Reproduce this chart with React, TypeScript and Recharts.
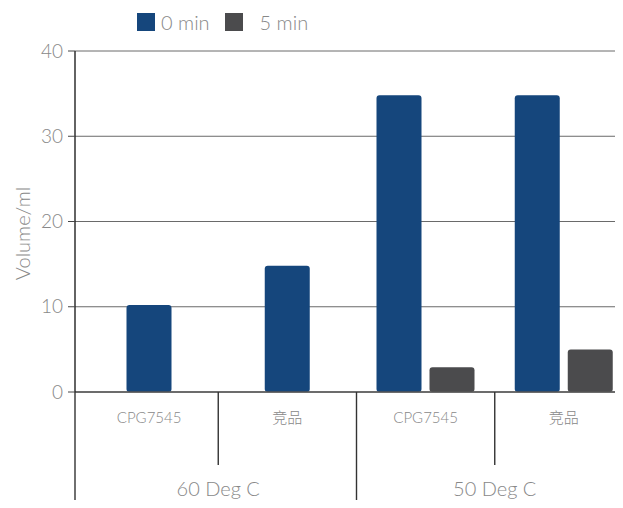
import React from 'react';
import { BarChart, Bar, XAxis, YAxis, CartesianGrid, Legend, Rectangle } from 'recharts';

const categories = ['CPG7545', '竞品', 'CPG7545', '竞品'];
const groups = ['60 Deg C', '60 Deg C', '50 Deg C', '50 Deg C'];
const min0 = [10.2, 14.8, 34.8, 34.8];
const min5 = [null, null, 2.9, 5.0];
const yTicks = [0, 10, 20, 30, 40];
const seriesNames = ['0 min', '5 min'];
const seriesColors = ['#15467c', '#4b4b4d'];

const data = categories.map((name, i) => ({
  name,
  group: groups[i],
  min0: min0[i],
  min5: min5[i],
}));

const FONT = 'Lato, "Noto Sans CJK SC", sans-serif';
const PAD = 5;
const BAR_GAP = 8;

// bar centred in its band when the other series has no value
function CenteredBar(props: any) {
  const { x, y, width, height, fill, payload } = props;
  if (!height || height <= 0) return null;
  const alone = payload.min5 == null;
  const shift = alone ? (width + BAR_GAP) / 2 : 0;
  return <Rectangle x={x + shift} y={y} width={width} height={height} fill={fill} radius={3} />;
}

function SubTick(props: any) {
  const { x, y, payload, index } = props;
  const off = payload?.offset ?? 69;
  const lx = x - off - (index === 0 ? PAD : 0);
  const long = index % 2 === 0;
  return (
    <g>
      <line x1={lx} x2={lx} y1={y} y2={long ? y + 150 : y + 73} stroke="#333" strokeWidth={1.4} />
      <text
        x={x}
        y={y + 25}
        textAnchor="middle"
        dominantBaseline="central"
        fill="#888"
        fontSize={15}
        fontFamily={FONT}
        fontWeight={300}
      >
        {payload.value}
      </text>
    </g>
  );
}

function GroupTick(props: any) {
  const { x, y, payload } = props;
  return (
    <text
      x={x}
      y={y + 36}
      textAnchor="middle"
      dominantBaseline="central"
      fill="#888"
      fontSize={20}
      fontFamily={FONT}
      fontWeight={300}
    >
      {payload.value}
    </text>
  );
}

function LegendBox() {
  return (
    <div style={{ height: 30, display: 'flex', alignItems: 'flex-start', paddingLeft: 129, fontFamily: FONT }}>
      {seriesNames.map((n, i) => (
        <div key={n} style={{ display: 'flex', alignItems: 'center', marginTop: 5, marginRight: 15 }}>
          <div style={{ width: 18, height: 18, background: seriesColors[i] }} />
          <span
            style={{
              marginLeft: i === 0 ? 6 : 17,
              fontSize: 20,
              fontWeight: 300,
              color: '#888',
              lineHeight: '18px',
            }}
          >
            {n}
          </span>
        </div>
      ))}
    </div>
  );
}

export default function App() {
  return (
    <div style={{ width: 615, height: 500, overflow: 'hidden', marginBottom: -8 }}>
      <BarChart
        width={625}
        height={520}
        data={data}
        margin={{ top: 13, right: 0, bottom: 20, left: 0 }}
        barSize={45}
        barGap={BAR_GAP}
      >
        <CartesianGrid vertical={false} stroke="#6a6a6a" />
        <XAxis
          dataKey="name"
          height={60}
          interval={0}
          tickLine={false}
          tickSize={0}
          tickMargin={0}
          axisLine={{ stroke: '#555', strokeWidth: 1.5 }}
          padding={{ left: PAD, right: 0 }}
          tick={<SubTick />}
        />
        <XAxis
          xAxisId="group"
          dataKey="group"
          allowDuplicatedCategory={false}
          height={56}
          interval={0}
          tickLine={false}
          tickSize={0}
          tickMargin={0}
          axisLine={false}
          padding={{ left: PAD, right: 0 }}
          tick={<GroupTick />}
        />
        <YAxis
          width={67}
          domain={[0, 40]}
          ticks={yTicks}
          tickSize={7}
          tickMargin={5}
          axisLine={{ stroke: '#222', strokeWidth: 1.4 }}
          tickLine={{ stroke: '#444' }}
          tick={{ fill: '#888', fontSize: 19, fontFamily: FONT, fontWeight: 300 }}
          label={{
            content: ({ viewBox }: any) => (
              <text
                x={14}
                y={viewBox.y + viewBox.height / 2 + 12}
                transform={`rotate(-90, 14, ${viewBox.y + viewBox.height / 2 + 12})`}
                textAnchor="middle"
                dominantBaseline="central"
                fill="#888"
                fontSize={20}
                fontFamily={FONT}
                fontWeight={300}
              >
                Volume/ml
              </text>
            ),
          }}
        />
        <Legend verticalAlign="top" align="left" content={<LegendBox />} wrapperStyle={{ top: 0, left: 0 }} />
        <Bar dataKey="min0" name={seriesNames[0]} fill={seriesColors[0]} shape={<CenteredBar />} isAnimationActive={false} />
        <Bar dataKey="min5" name={seriesNames[1]} fill={seriesColors[1]} shape={<CenteredBar />} isAnimationActive={false} />
      </BarChart>
    </div>
  );
}
